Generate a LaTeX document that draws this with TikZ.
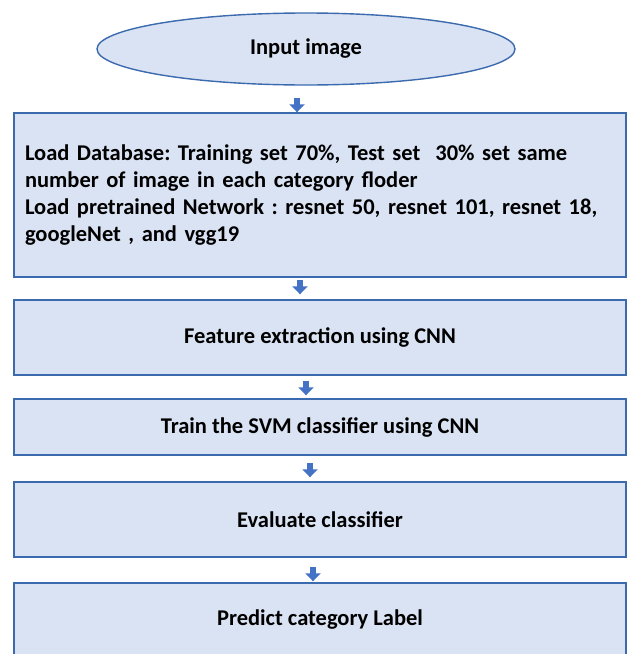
\documentclass[tikz,border=0pt]{standalone}
\usepackage{fontspec}
\setmainfont{Carlito}
\usetikzlibrary{shapes,arrows.meta}
\definecolor{boxfill}{HTML}{DAE3F3}
\definecolor{boxline}{HTML}{3C6AAE}
\definecolor{arrowblue}{HTML}{4472C4}
\frenchspacing

\begin{document}
\begin{tikzpicture}[x=1pt,y=-1pt,
    box/.style={draw=boxline, fill=boxfill, line width=1.4pt, minimum width=612pt,
      font=\bfseries\fontsize{22.5}{27}\selectfont},
    blockarrow/.style={draw=arrowblue, line width=6pt,
      -{Triangle[width=15pt,length=8pt]}}]
    % page
    \useasboundingbox (0,0) rectangle (639,654);

    % nodes
    \node[box, ellipse, minimum width=418pt, minimum height=72pt, inner sep=0pt]
        (input) at (306,49) {Input image};
    \node[box, minimum height=164pt, text width=590pt, align=left]
        (load) at (320,195) {Load Database: Training set 70\%, Test set\ \ 30\% set same\\
        number of image in each category floder\\
        Load pretrained Network : resnet 50, resnet 101, resnet 18,\\
        googleNet , and vgg19};
    \node[box, minimum height=75pt] (feat) at (320,337.5) {Feature extraction using CNN};
    \node[box, minimum height=56pt] (train) at (320,427) {Train the SVM classifier using CNN};
    \node[box, minimum height=75pt] (eval) at (320,519.5) {Evaluate classifier};
    \node[box, minimum height=73pt] (pred) at (320,619.5) {Predict category Label};

    % arrows
    \draw[blockarrow] ([xshift=-9pt,yshift=-12pt]input.south) -- ([xshift=-23pt]load.north);
    \draw[blockarrow] ([xshift=-20pt,yshift=-2pt]load.south) -- ([xshift=-20pt,yshift=5pt]feat.north);
    \draw[blockarrow] ([xshift=-14pt,yshift=-5pt]feat.south) -- ([xshift=-14pt,yshift=3pt]train.north);
    \draw[blockarrow] ([xshift=-10pt,yshift=-7pt]train.south) -- ([xshift=-10pt,yshift=4pt]eval.north);
    \draw[blockarrow] ([xshift=-7pt,yshift=-9pt]eval.south) -- ([xshift=-7pt,yshift=1pt]pred.north);
\end{tikzpicture}
\end{document}
